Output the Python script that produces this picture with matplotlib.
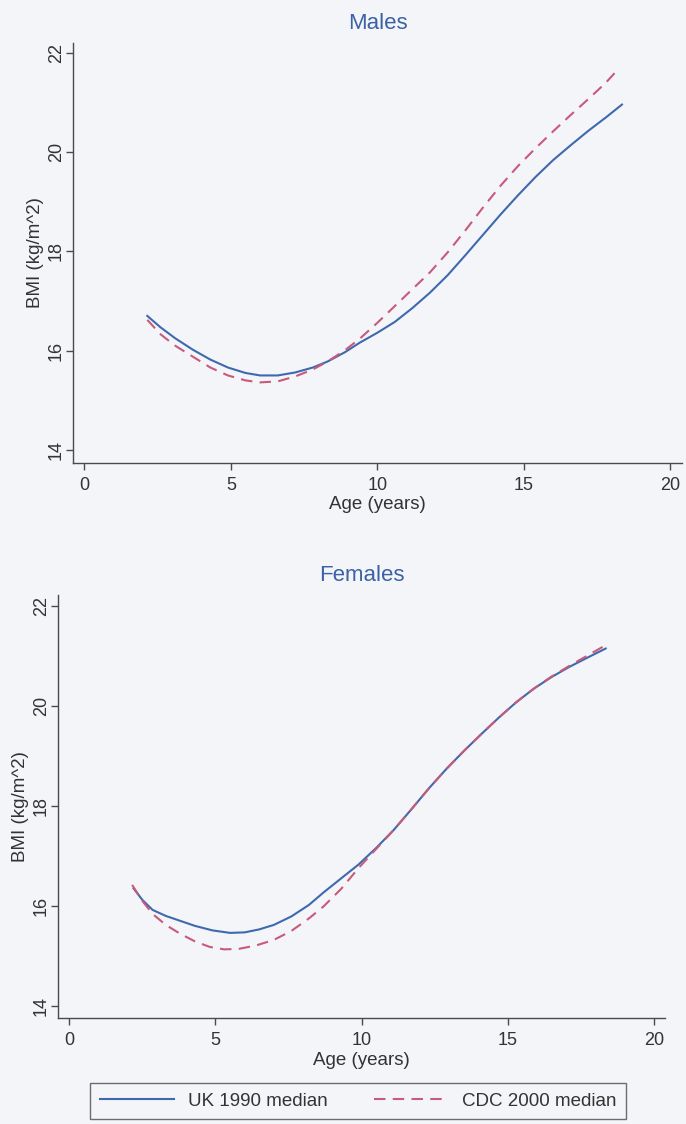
import matplotlib
matplotlib.use("Agg")
import matplotlib.pyplot as plt

plt.rcParams["font.family"] = ["Liberation Sans", "DejaVu Sans"]

# median BMI by age
male_age_uk = [2.15, 2.6, 3.1, 3.7, 4.3, 4.9, 5.5, 6.0, 6.6, 7.2, 7.8, 8.3, 8.9, 9.4, 10.0, 10.6, 11.2, 11.8,
               12.4, 13.0, 13.6, 14.2, 14.8, 15.4, 16.0, 16.6, 17.2, 17.8, 18.35]
male_bmi_uk = [16.70, 16.47, 16.25, 16.02, 15.82, 15.66, 15.55, 15.50, 15.50, 15.56, 15.66, 15.78, 15.97, 16.16,
               16.36, 16.58, 16.86, 17.17, 17.52, 17.92, 18.33, 18.74, 19.13, 19.50, 19.84, 20.14, 20.43, 20.70, 20.96]
male_age_cdc = [2.15, 2.6, 3.1, 3.7, 4.3, 4.9, 5.5, 6.0, 6.6, 7.2, 7.8, 8.3, 8.9, 9.4, 10.0, 10.6, 11.2, 11.8,
                12.4, 13.0, 13.6, 14.2, 14.8, 15.4, 16.0, 16.6, 17.2, 17.8, 18.2]
male_bmi_cdc = [16.62, 16.33, 16.10, 15.88, 15.66, 15.50, 15.40, 15.36, 15.38, 15.48, 15.62, 15.78, 16.01, 16.24,
                16.56, 16.90, 17.24, 17.58, 17.98, 18.42, 18.88, 19.32, 19.72, 20.08, 20.42, 20.75, 21.07, 21.40, 21.66]

female_age_uk = [2.2, 2.5, 2.85, 3.3, 3.8, 4.3, 4.9, 5.5, 6.0, 6.5, 7.0, 7.6, 8.2, 8.7, 9.3, 9.9, 10.5, 11.1,
                 11.7, 12.3, 12.9, 13.5, 14.1, 14.7, 15.3, 15.9, 16.5, 17.1, 17.7, 18.35]
female_bmi_uk = [16.35, 16.12, 15.92, 15.80, 15.70, 15.60, 15.51, 15.46, 15.47, 15.53, 15.62, 15.79, 16.02, 16.27,
                 16.55, 16.83, 17.16, 17.52, 17.93, 18.35, 18.74, 19.10, 19.44, 19.77, 20.08, 20.35, 20.58, 20.78,
                 20.96, 21.15]
female_age_cdc = [2.15, 2.5, 2.85, 3.3, 3.8, 4.3, 4.8, 5.3, 5.8, 6.4, 7.0, 7.6, 8.2, 8.7, 9.3, 9.9, 10.5, 11.1,
                  11.7, 12.3, 12.9, 13.5, 14.1, 14.7, 15.3, 15.9, 16.5, 17.1, 17.7, 18.3]
female_bmi_cdc = [16.42, 16.10, 15.84, 15.62, 15.44, 15.29, 15.18, 15.13, 15.14, 15.21, 15.32, 15.50, 15.75, 15.99,
                  16.34, 16.76, 17.14, 17.52, 17.93, 18.35, 18.74, 19.10, 19.44, 19.77, 20.08, 20.35, 20.59, 20.80,
                  21.00, 21.20]

x_ticks = [0, 5, 10, 15, 20]
y_ticks = [14, 16, 18, 20, 22]

bg = "#f4f5f9"
blue = "#3f69ad"
red = "#c85a7a"
axis_col = "#4a4a4a"
title_col = "#3a62a4"

fig = plt.figure(figsize=(6.86, 11.24), dpi=100, facecolor=bg)

panels = [
    ("Males", [0.1069, 0.5883, 0.8873, 0.3734], (-0.375, 20.4), (13.74, 22.2),
     male_age_uk, male_bmi_uk, male_age_cdc, male_bmi_cdc),
    ("Females", [0.085, 0.0940, 0.8844, 0.3766], (-0.375, 20.38), (13.75, 22.22),
     female_age_uk, female_bmi_uk, female_age_cdc, female_bmi_cdc),
]

for title, rect, xl, yl, xa, ya, xb, yb in panels:
    ax = fig.add_axes(rect)
    ax.set_facecolor("none")
    ax.plot(xa, ya, color=blue, lw=1.5, label="UK 1990 median")
    ax.plot(xb, yb, color=red, lw=1.5, ls=(0, (5.5, 3.5)), label="CDC 2000 median")
    ax.set_xlim(*xl)
    ax.set_ylim(*yl)
    ax.set_xticks(x_ticks)
    ax.set_yticks(y_ticks)
    for s in ["top", "right"]:
        ax.spines[s].set_visible(False)
    for s in ["left", "bottom"]:
        ax.spines[s].set_color(axis_col)
        ax.spines[s].set_linewidth(1.0)
    ax.tick_params(colors=axis_col, labelcolor="#333333", length=5, width=1.0,
                   labelsize=13)
    ax.tick_params(axis="x", pad=5)
    ax.tick_params(axis="y", pad=1)
    for lab in ax.get_yticklabels():
        lab.set_rotation(90)
        lab.set_va("center")
    ax.set_xlabel("Age (years)", fontsize=13.5, color="#333333", labelpad=2)
    ax.set_ylabel("BMI (kg/m^2)", fontsize=13.5, color="#333333", labelpad=3)
    ax.set_title(title, fontsize=16, color=title_col, pad=10)

handles, labels = ax.get_legend_handles_labels()
leg = fig.legend(handles, labels, loc="center", bbox_to_anchor=(0.522, 0.0205),
                 ncol=2, fontsize=13.5, frameon=True, fancybox=False,
                 handlelength=3.95, columnspacing=2.45, borderpad=0.5,
                 handletextpad=0.75)
leg.get_frame().set_edgecolor(axis_col)
leg.get_frame().set_facecolor(bg)
leg.get_frame().set_linewidth(1.0)
for t in leg.get_texts():
    t.set_color("#333333")

fig.savefig("out.png", dpi=100, facecolor=bg)
